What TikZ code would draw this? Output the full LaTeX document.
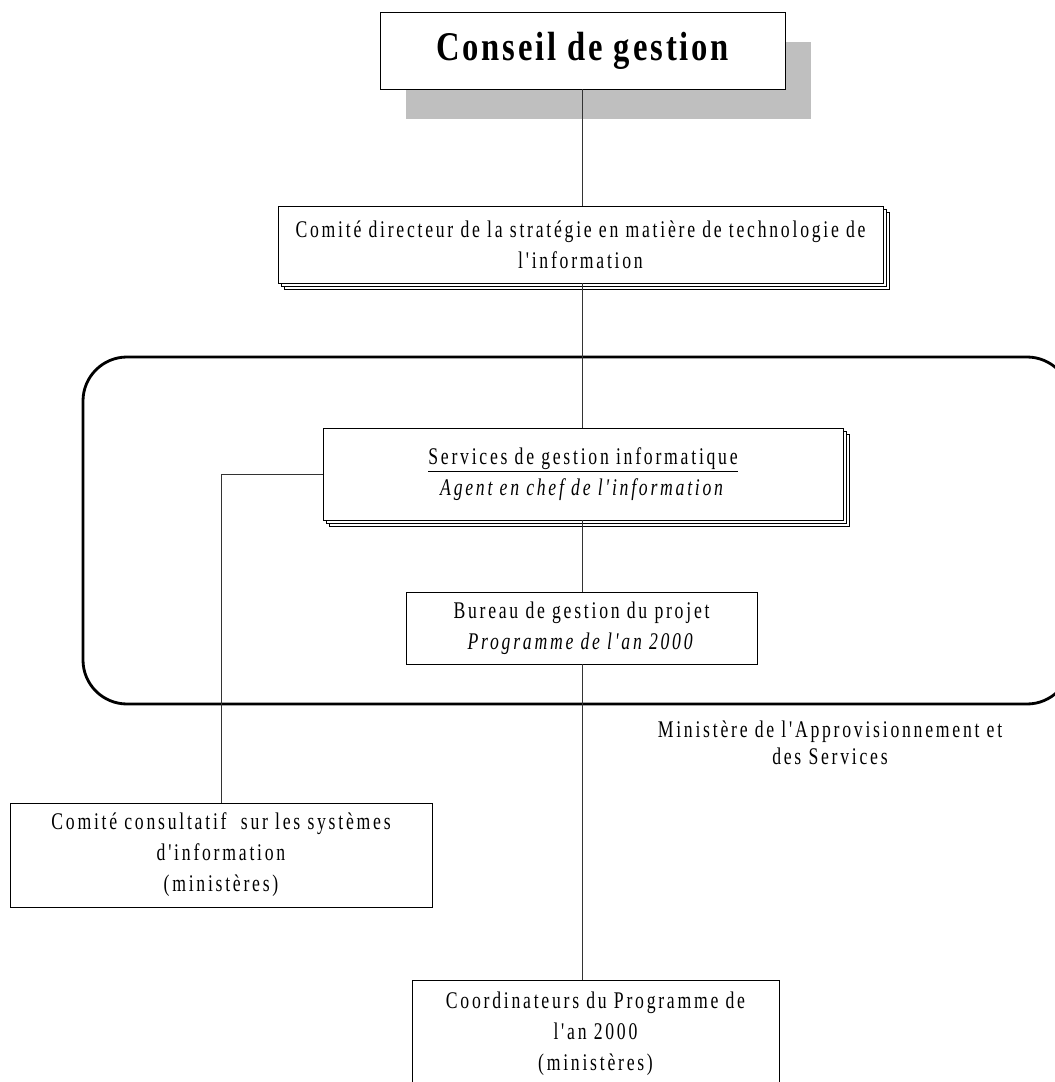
\documentclass[tikz,border=0pt]{standalone}
\usepackage{fontspec}
\setmainfont{Liberation Serif}[FakeStretch=0.74, LetterSpace=11.5, Ligatures=TeXOff]
\newfontfamily\titlefont{Liberation Serif}[FakeStretch=0.8, LetterSpace=7, Ligatures=TeXOff]
\usetikzlibrary{shadows}

\def\pxu{0.025cm}
\newcommand\boxfont{\fontsize{17}{22}\selectfont}
\newcommand\notefont{\fontsize{17}{19.2}\selectfont}

\begin{document}
\begin{tikzpicture}[x = 0.025cm, y = -0.025cm]

	% Styles
	
	\tikzset{
		box/.style = {draw, fill = white, line width = 0.7pt, align = center, inner sep = 0pt, font = \boxfont},
		stack/.style = {box, double copy shadow = {shadow xshift = 3*\pxu, shadow yshift = -3*\pxu}},
		link/.style = {draw = black!80, line width = 0.6pt}
	}
	
	\useasboundingbox (0, 0) rectangle (1054, 1082);
	
	% Ministry frame
	
	\draw [line width = 2pt, rounded corners = 44*\pxu] (83, 357) rectangle (1071, 704);
	
	% Boxes
	
	\node [box, minimum width = 405*\pxu, minimum height = 77*\pxu,
		drop shadow = {shadow xshift = 26*\pxu, shadow yshift = -30*\pxu, fill = gray!50, opacity = 1}]
		(conseil) at (582.5, 50.5) {\titlefont\fontsize{29}{32}\selectfont\bfseries Conseil de gestion};
	
	\node [stack, minimum width = 605*\pxu, minimum height = 77*\pxu] (directeur) at (580.5, 244.5)
		{Comité directeur de la stratégie en matière de technologie de\\ l'information};
	
	\node [stack, minimum width = 520*\pxu, minimum height = 92*\pxu] (services) at (583, 474)
		{\underline{Services de gestion informatique}\\ \textit{Agent en chef de l'information}};
	
	\node [box, minimum width = 351*\pxu, minimum height = 72*\pxu] (bureau) at (581.5, 628)
		{Bureau de gestion du projet\\ \textit{Programme de l'an 2000}};
	
	\node [box, minimum width = 422*\pxu, minimum height = 104*\pxu] (consultatif) at (221, 855)
		{Comité consultatif\ \ sur les systèmes\\ d'information\\ (ministères)};
	
	\node [box, minimum width = 367*\pxu, minimum height = 120*\pxu, anchor = north] (coordinateurs) at (595.5, 980)
		{Coordinateurs du Programme de\\ l'an 2000\\ (ministères)\\[-9pt]};
	
	\node [align = center, font = \notefont] (ministere) at (830, 743)
		{Ministère de l'Approvisionnement et\\ des Services};
	
	% Connectors
	
	\draw [link] (conseil.south) -- (conseil.south |- directeur.north);
	\draw [link] (conseil.south |- directeur.south) -- (conseil.south |- services.north);
	\draw [link] (conseil.south |- services.south) -- (conseil.south |- bureau.north);
	\draw [link] (conseil.south |- bureau.south) -- (conseil.south |- coordinateurs.north);
	\draw [link] (services.west) -| (consultatif.north);
	
\end{tikzpicture}
\end{document}
